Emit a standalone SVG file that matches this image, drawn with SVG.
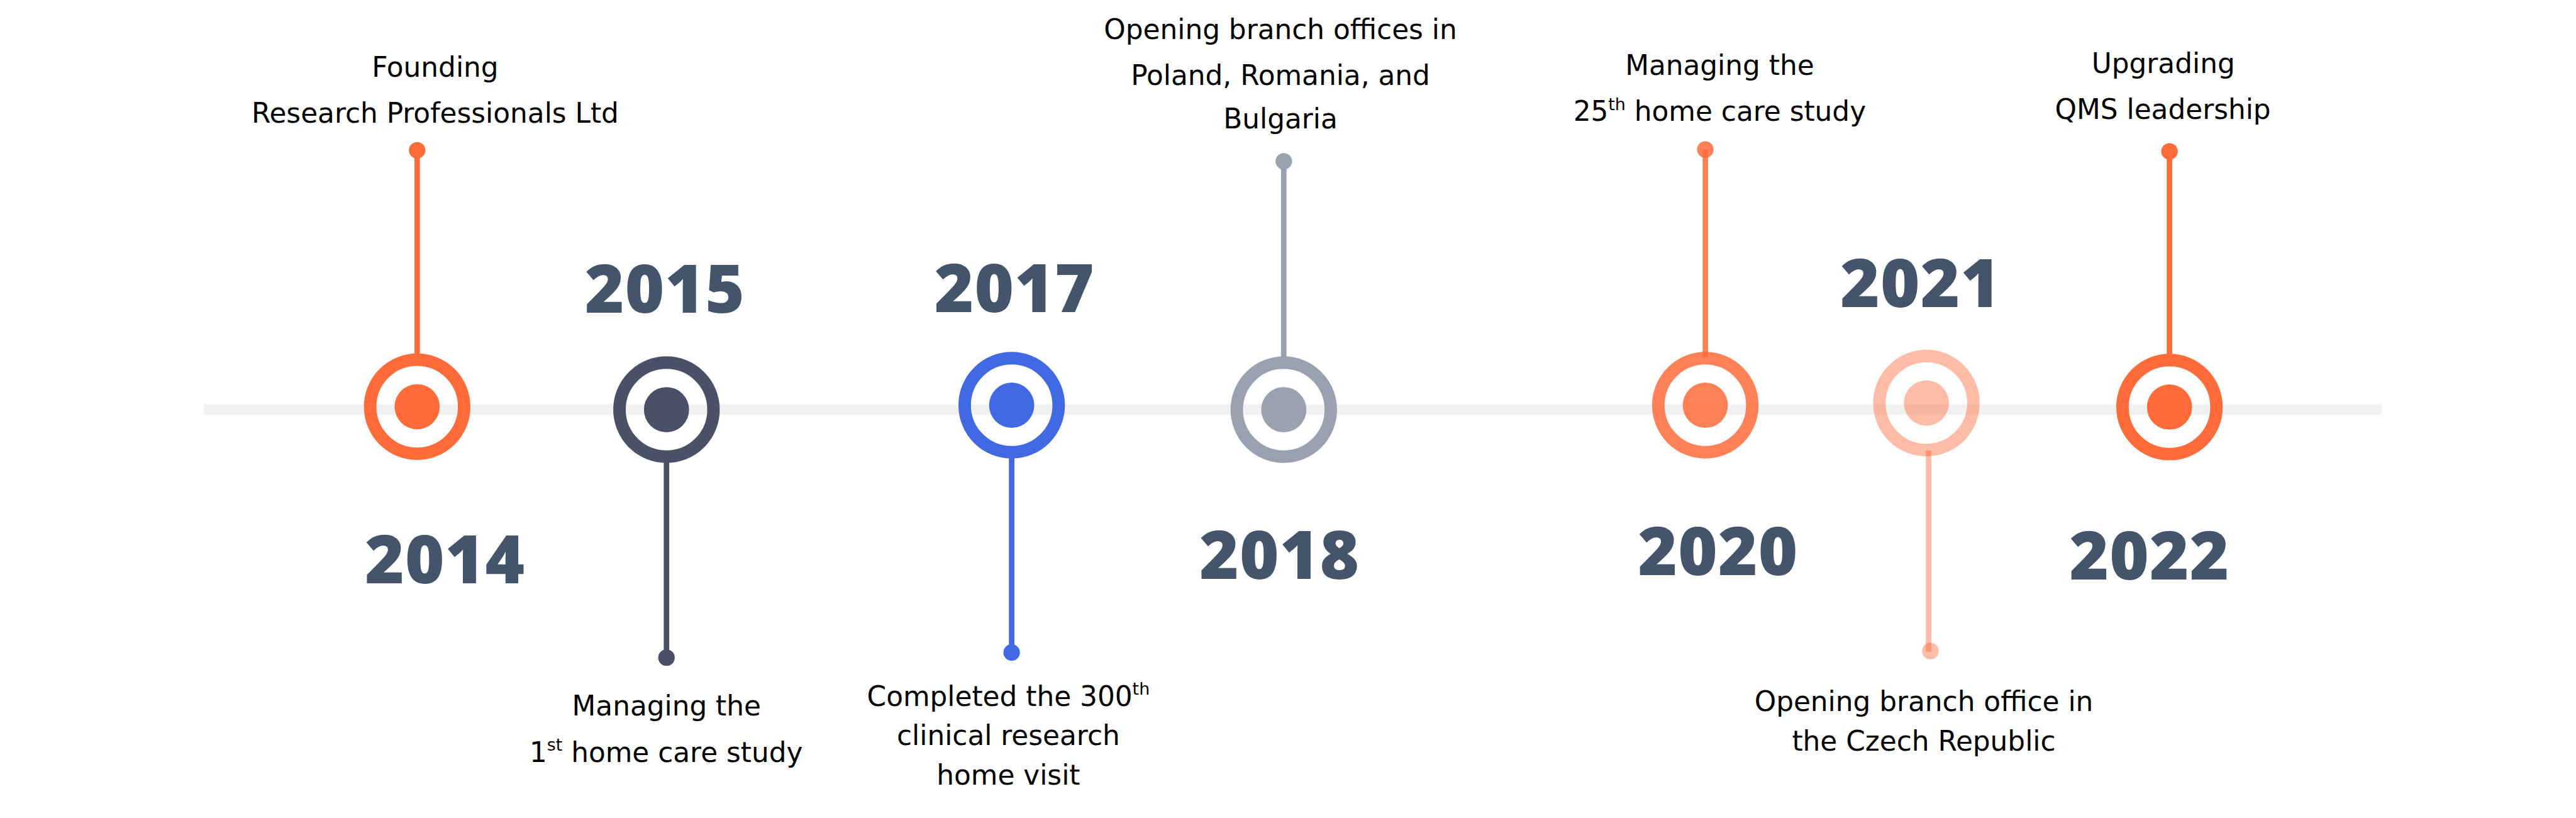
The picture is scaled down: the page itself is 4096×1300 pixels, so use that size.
<svg xmlns="http://www.w3.org/2000/svg" width="4096" height="1300" viewBox="0 0 4096 1300">
<style>
.lbl{font-family:"DejaVu Sans","Noto Sans",sans-serif;font-size:75px;fill:#000;text-anchor:middle}
.yr{font-family:"Open Sans","Liberation Sans",sans-serif;font-weight:800;font-size:183px;letter-spacing:2px;fill:#44546A;text-anchor:middle}
.ring{fill:none;stroke-width:34}
.stem{stroke-width:15;fill:none}
.o{fill:#FF6B39;stroke:#FF6B39}
.o2{fill:#FF6B39;stroke:#FF6B39;opacity:0.85}
.o3{fill:#FF6B39;stroke:#FF6B39;opacity:0.45}
.d{fill:#4A5066;stroke:#4A5066}
.b{fill:#4169E1;stroke:#4169E1}
.g{fill:#9AA2B1;stroke:#9AA2B1}
</style>
<rect width="4096" height="1300" fill="#ffffff"/>
<g transform="scale(0.58389)">
<rect id="timeline" x="555" y="1100" width="5931" height="29" fill="#F1F1F1"/>
<g id="connectors">
<line class="stem o" x1="1136" y1="409" x2="1136" y2="965" style="fill:none"/><circle class="o" cx="1136" cy="409" r="22.5" style="stroke:none"/>
<line class="stem d" x1="1815" y1="1258" x2="1815" y2="1790" style="fill:none"/><circle class="d" cx="1815" cy="1790" r="22.5" style="stroke:none"/>
<line class="stem b" x1="2755" y1="1246" x2="2755" y2="1776" style="fill:none"/><circle class="b" cx="2755" cy="1776" r="22.5" style="stroke:none"/>
<line class="stem g" x1="3496" y1="439" x2="3496" y2="972" style="fill:none"/><circle class="g" cx="3496" cy="439" r="22.5" style="stroke:none"/>
<line class="stem o2" x1="4644" y1="407" x2="4644" y2="972" style="fill:none"/><circle class="o2" cx="4644" cy="407" r="22.5" style="stroke:none"/>
<line class="stem o3" x1="5252" y1="1226" x2="5252" y2="1774" style="fill:none"/><circle class="o3" cx="5257" cy="1772" r="22.5" style="stroke:none"/>
<line class="stem o" x1="5908" y1="412" x2="5908" y2="966" style="fill:none"/><circle class="o" cx="5908" cy="412" r="22.5" style="stroke:none"/>
</g>
<g id="n2014">
<circle class="ring o" cx="1136" cy="1107" r="128" style="fill:none"/>
<circle class="o" cx="1136" cy="1107" r="61.5" style="stroke:none"/>
<text class="yr" x="1212" y="1587">2014</text>
<text class="lbl" x="1185" y="209">Founding</text>
<text class="lbl" x="1185" y="334">Research Professionals Ltd</text>
</g>
<g id="n2015">
<circle class="ring d" cx="1815" cy="1115" r="128" style="fill:none"/>
<circle class="d" cx="1815" cy="1115" r="61.5" style="stroke:none"/>
<text class="yr" x="1811" y="852">2015</text>
<text class="lbl" x="1815" y="1948">Managing the</text>
<text class="lbl" x="1814" y="2074">1<tspan font-size="46" dy="-30">st</tspan><tspan dy="30"> home care study</tspan></text>
</g>
<g id="n2017">
<circle class="ring b" cx="2755" cy="1103" r="128" style="fill:none"/>
<circle class="b" cx="2755" cy="1103" r="61.5" style="stroke:none"/>
<text class="yr" x="2763" y="850">2017</text>
<text class="lbl" x="2746" y="1921">Completed the 300<tspan font-size="46" dy="-30">th</tspan></text>
<text class="lbl" x="2746" y="2028">clinical research</text>
<text class="lbl" x="2746" y="2136">home visit</text>
</g>
<g id="n2018">
<circle class="ring g" cx="3496" cy="1115" r="128" style="fill:none"/>
<circle class="g" cx="3496" cy="1115" r="61.5" style="stroke:none"/>
<text class="yr" x="3485" y="1575">2018</text>
<text class="lbl" x="3487" y="107">Opening branch offices in</text>
<text class="lbl" x="3487" y="232">Poland, Romania, and</text>
<text class="lbl" x="3487" y="349">Bulgaria</text>
</g>
<g id="n2020">
<circle class="ring o2" cx="4644" cy="1103" r="128" style="fill:none"/>
<circle class="o2" cx="4644" cy="1103" r="61.5" style="stroke:none"/>
<text class="yr" x="4679" y="1565">2020</text>
<text class="lbl" x="4683" y="204">Managing the</text>
<text class="lbl" x="4683" y="329">25<tspan font-size="46" dy="-30">th</tspan><tspan dy="30"> home care study</tspan></text>
</g>
<g id="n2021">
<circle class="ring o3" cx="5246" cy="1097" r="128" style="fill:none"/>
<circle class="o3" cx="5246" cy="1097" r="61.5" style="stroke:none"/>
<text class="yr" x="5230" y="835">2021</text>
<text class="lbl" x="5239" y="1936">Opening branch office in</text>
<text class="lbl" x="5239" y="2043">the Czech Republic</text>
</g>
<g id="n2022">
<circle class="ring o" cx="5908" cy="1108" r="128" style="fill:none"/>
<circle class="o" cx="5908" cy="1108" r="61.5" style="stroke:none"/>
<text class="yr" x="5854" y="1577">2022</text>
<text class="lbl" x="5891" y="199">Upgrading</text>
<text class="lbl" x="5890" y="324">QMS leadership</text>
</g>
</g>
</svg>
